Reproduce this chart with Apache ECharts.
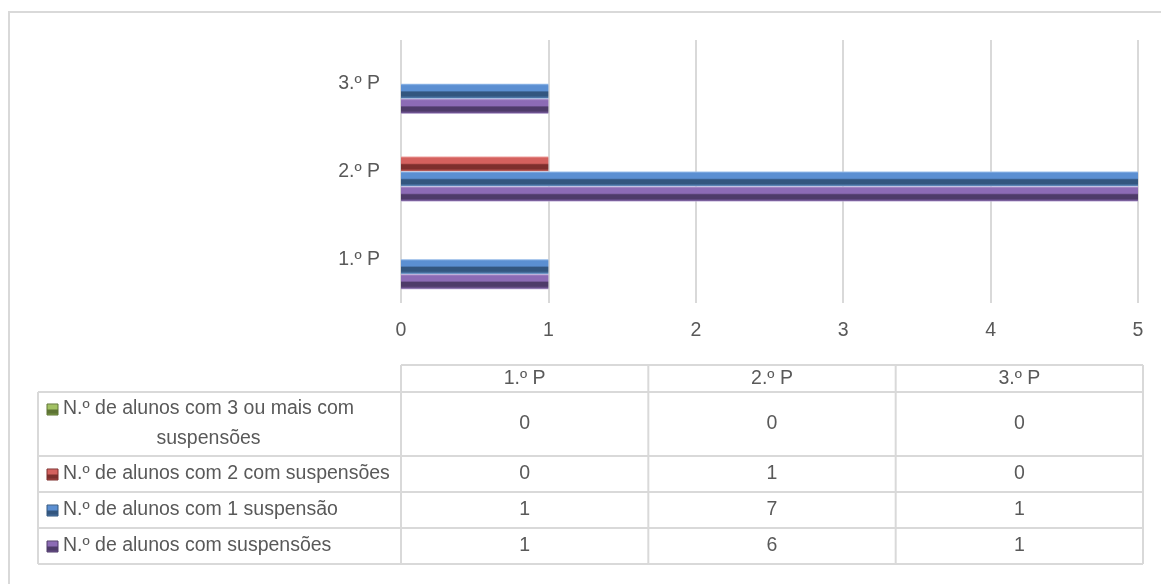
<!DOCTYPE html>
<html>
<head>
<meta charset="utf-8">
<script src="https://cdn.jsdelivr.net/npm/echarts@6/dist/echarts.min.js"></script>
<style>
  html, body { margin: 0; padding: 0; background: #fff; }
  #chart { width: 1161px; height: 584px; }
</style>
</head>
<body>
<div id="chart"></div>
<script>
var categories = ['1.º P', '2.º P', '3.º P'];
var seriesNames = [
  'N.º de alunos com suspensões',
  'N.º de alunos com 1 suspensão',
  'N.º de alunos com 2 com suspensões',
  'N.º de alunos com 3 ou mais com suspensões'
];
var withSuspensions = [1, 6, 1];
var oneSuspension = [1, 7, 1];
var twoSuspensions = [0, 1, 0];
var threeOrMore = [0, 0, 0];

var seriesData = [withSuspensions, oneSuspension, twoSuspensions, threeOrMore];
var palette = [
  { light: '#b9a5d4', base: '#8c6bb5', dark: '#4e3b69', edge: '#6f5492' },
  { light: '#9cc0ec', base: '#5b8fd2', dark: '#33567f', edge: '#4d77a8' },
  { light: '#eea09e', base: '#d4615e', dark: '#7d2f2d', edge: '#a84946' },
  { light: '#cde0a6', base: '#a2c163', dark: '#5e7434', edge: '#80a04a' }
];

var textColor = '#595959';
var lineColor = '#d9d9d9';
var fontFamily = '"Liberation Sans", Arial, sans-serif';
var fontSize = 19.5;

function bevel(c) {
  return {
    type: 'linear', x: 0, y: 0, x2: 0, y2: 1,
    colorStops: [
      { offset: 0, color: c.light },
      { offset: 0.12, color: c.base },
      { offset: 0.45, color: c.base },
      { offset: 0.55, color: c.dark },
      { offset: 0.8, color: c.dark },
      { offset: 0.92, color: c.edge },
      { offset: 1, color: c.light }
    ]
  };
}

var chart = echarts.init(document.getElementById('chart'));

// data table geometry
var legendLeft = 38;
var colLeft = 401;
var colRight = 1143;
var headerTop = 365;
var headerH = 27;
var rowHeights = [64, 36, 36, 36];

var measure = document.createElement('canvas').getContext('2d');
measure.font = fontSize + 'px "Liberation Sans"';

function txt(text, x, y, align) {
  return {
    type: 'text',
    style: {
      text: text, x: x, y: y,
      fill: textColor, font: fontSize + 'px ' + fontFamily,
      textAlign: align || 'center', textVerticalAlign: 'middle'
    }
  };
}

function buildTable() {
  var g = [];
  var colW = (colRight - colLeft) / categories.length;
  var tableBottom = headerTop + headerH;
  rowHeights.forEach(function(h) { tableBottom += h; });
  var bodyTop = headerTop + headerH;

  categories.forEach(function(cat, i) {
    g.push(txt(cat, colLeft + colW * (i + 0.5), headerTop + headerH / 2));
  });

  // rows: top row is last series
  var y = bodyTop;
  for (var r = 0; r < rowHeights.length; r++) {
    var s = seriesData.length - 1 - r;
    var h = rowHeights[r];
    var name = seriesNames[s];
    var iconX = legendLeft + 9;
    var textX = iconX + 16;
    var maxW = colLeft - textX;
    var iconY;
    if (measure.measureText(name).width > maxW) {
      var words = name.split(' ');
      var lines = [''];
      words.forEach(function(w) {
        var cur = lines[lines.length - 1];
        var t = cur ? cur + ' ' + w : w;
        if (measure.measureText(t).width > maxW - 20 && cur) {
          lines.push(w);
        } else {
          lines[lines.length - 1] = t;
        }
      });
      var lh = 30;
      var cx = textX + measure.measureText(lines[0]).width / 2;
      var top = y + h / 2 - lh * lines.length / 2;
      lines.forEach(function(line, li) {
        g.push(txt(line, cx, top + lh * (li + 0.5)));
      });
      iconY = top + lh / 2;
    } else {
      g.push(txt(name, textX, y + h / 2, 'left'));
      iconY = y + h / 2;
    }
    var c = palette[s];
    g.push({
      type: 'rect',
      shape: { x: iconX, y: iconY - 5, width: 11, height: 11 },
      style: { fill: bevel(c), stroke: c.dark, lineWidth: 1 }
    });
    seriesData[s].forEach(function(v, i) {
      g.push(txt(String(v), colLeft + colW * (i + 0.5), y + h / 2));
    });
    y += h;
  }

  function line(x1, y1, x2, y2) {
    g.push({
      type: 'line', silent: true,
      shape: { x1: x1, y1: y1, x2: x2, y2: y2 },
      style: { stroke: lineColor, lineWidth: 2 }
    });
  }
  line(colLeft, headerTop, colRight, headerTop);
  var yy = bodyTop;
  line(legendLeft, yy, colRight, yy);
  rowHeights.forEach(function(h) {
    yy += h;
    line(legendLeft, yy, colRight, yy);
  });
  line(legendLeft, bodyTop, legendLeft, tableBottom);
  for (var i = 0; i <= categories.length; i++) {
    line(colLeft + colW * i, headerTop, colLeft + colW * i, tableBottom);
  }

  // chart frame
  g.push({
    type: 'rect', silent: true,
    shape: { x: 9, y: 12, width: 1200, height: 620 },
    style: { fill: 'none', stroke: lineColor, lineWidth: 2 }
  });
  return g;
}

// ECharts stacks horizontal bar series from the top, so add them reversed
var barSeries = [];
for (var k = seriesNames.length - 1; k >= 0; k--) {
  barSeries.push({
    name: seriesNames[k],
    type: 'bar',
    data: seriesData[k],
    barWidth: 15,
    barGap: '0%',
    clip: true,
    itemStyle: { color: bevel(palette[k]) }
  });
}

var option = {
  backgroundColor: '#fff',
  animation: false,
  textStyle: { fontFamily: fontFamily },
  grid: { left: 401, right: 23, top: 40, height: 263, containLabel: false },
  xAxis: {
    type: 'value',
    min: 0,
    max: 5,
    interval: 1,
    axisLine: { show: false },
    axisTick: { show: false },
    axisLabel: { color: textColor, fontSize: fontSize, margin: 18 },
    splitLine: { lineStyle: { color: lineColor, width: 2 } }
  },
  yAxis: {
    type: 'category',
    data: categories,
    axisLine: { show: false },
    axisTick: { show: false },
    axisLabel: { color: textColor, fontSize: fontSize, margin: 21 }
  },
  series: barSeries,
  graphic: buildTable()
};

chart.setOption(option);
</script>
</body>
</html>
